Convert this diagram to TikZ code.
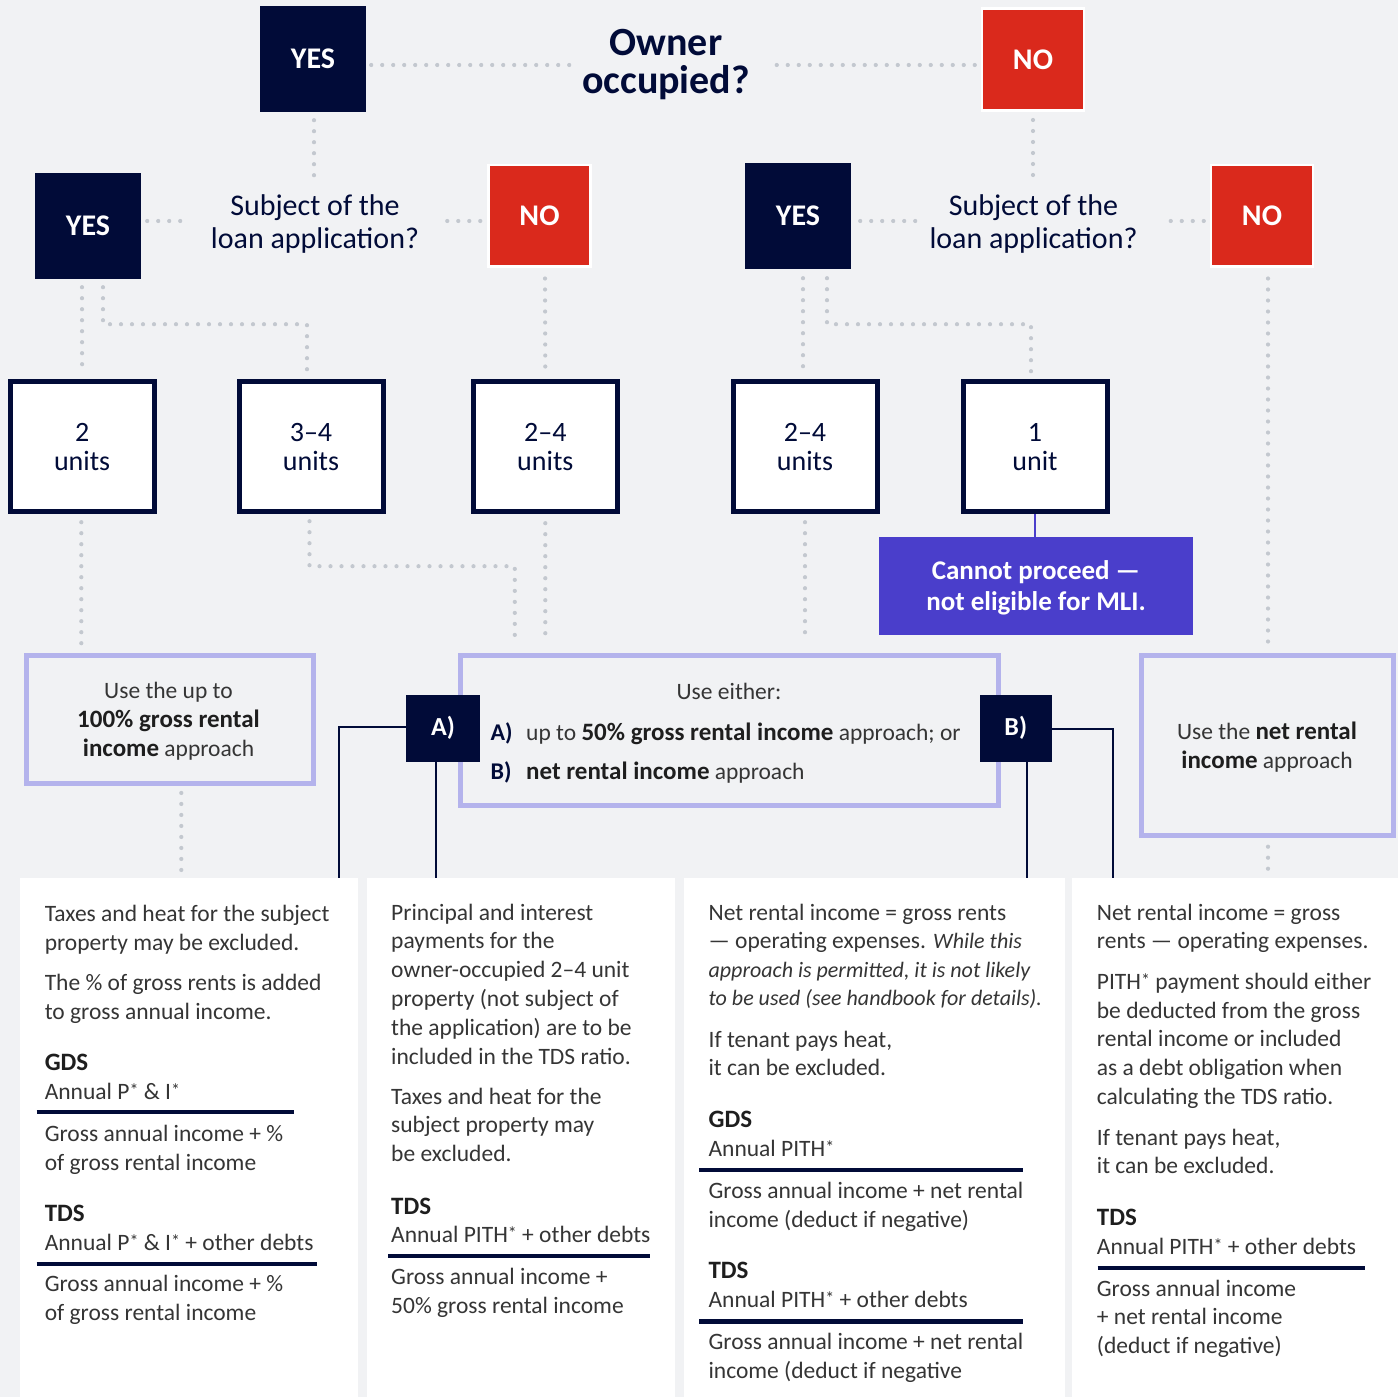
\documentclass[tikz,border=0pt]{standalone}
\usepackage{fontspec}
\setmainfont{Carlito}
\usetikzlibrary{calc}
\definecolor{navy}{HTML}{010B38}
\definecolor{mlired}{HTML}{DA291C}
\definecolor{mlipurple}{HTML}{4A3ECB}
\definecolor{lilac}{HTML}{B4B3EC}
\definecolor{bggray}{HTML}{F1F2F4}
\definecolor{dotgray}{HTML}{C3C8CF}
\definecolor{bodygray}{HTML}{353535}
\definecolor{headblack}{HTML}{1E1E1E}
\newcommand\fs[2]{\fontsize{#1}{#2}\selectfont}
\newcommand\bk[1]{{\bfseries\fs{25}{29}\color{headblack}#1}}
\newcommand\itx[1]{{\itshape\fs{22}{29}#1}}
\newcommand\sast{\raisebox{3pt}{\fs{18}{18}*}}
\begin{document}
\begin{tikzpicture}[x=1pt,y=-1pt,
 dots/.style={draw=dotgray, line width=4.2pt, line cap=round, dash pattern=on 0pt off 11pt},
 navyline/.style={draw=navy, line width=2pt},
 purpline/.style={draw=mlipurple, line width=2.5pt},
 yesbox/.style={fill=navy, text=white, font=\bfseries\fs{30}{30}, minimum width=106pt, minimum height=106pt, inner sep=0pt},
 nobox/.style={fill=mlired, draw=white, line width=2.5pt, text=white, font=\bfseries\fs{30}{30}, minimum width=102pt, minimum height=101.5pt, inner sep=0pt},
 qtitle/.style={text=navy, font=\fs{30}{33}, anchor=base, inner sep=0pt},
 otitle/.style={text=navy, font=\bfseries\fs{40}{37}, anchor=base, inner sep=0pt},
 unitbox/.style={fill=white, draw=navy, line width=5pt, text=navy, font=\fs{28}{29}, align=center, minimum width=144pt, minimum height=130pt, inner sep=0pt},
 optbox/.style={draw=lilac, line width=5pt, inner sep=0pt},
 abbox/.style={fill=navy, text=white, font=\bfseries\fs{26}{26}, minimum height=67pt, inner sep=0pt},
 stopbox/.style={fill=mlipurple, minimum width=313.5pt, minimum height=98pt, inner sep=0pt},
 stoptext/.style={text=white, font=\bfseries\fs{27}{31}, anchor=base, inner sep=0pt},
 coltext/.style={anchor=base west, inner sep=0pt, text=bodygray, font=\fs{23.5}{29}},
 colhead/.style={anchor=base west, inner sep=0pt, text=headblack, font=\bfseries\fs{25}{29}},
 midtext/.style={anchor=base, inner sep=0pt, text=bodygray, font=\fs{23.5}{29}},
 midleft/.style={anchor=base west, inner sep=0pt, text=bodygray, font=\fs{23.5}{29}},
 midlabel/.style={anchor=base west, inner sep=0pt, text=navy, font=\bfseries\fs{24}{29}},
 colbox/.style={fill=white, inner sep=0pt, anchor=north west, minimum height=520pt},
 rulebar/.style={draw=navy, line width=4.5pt}
]
\useasboundingbox (0,0) rectangle (1398,1397);
\fill[bggray] (0,0) rectangle (1398,1397);

% ---- top row
\node[yesbox] (yes0) at (313,59) {YES};
\node[nobox] (no0) at (1033,59.5) {NO};
\node[otitle] (owner1) at (666,56) {Owner};
\node[otitle] (owner2) at (666,93) {occupied?};

% ---- second row
\node[yesbox] (yes1) at (88,226) {YES};
\node[nobox] (noL) at (539.5,215.5) {NO};
\node[qtitle] (sqL1) at (315,215) {Subject of the};
\node[qtitle] (sqL2) at (315,248) {loan application?};
\node[yesbox] (yes2) at (798,216) {YES};
\node[nobox] (noR) at (1262,215.5) {NO};
\node[qtitle] (sqR1) at (1033.5,215) {Subject of the};
\node[qtitle] (sqR2) at (1033.5,248) {loan application?};

% ---- units
\node[unitbox] (u1) at (82.1,446.7) {2\\units};
\node[unitbox] (u2) at (311,446.7) {3–4\\units};
\node[unitbox] (u3) at (545.3,446.7) {2–4\\units};
\node[unitbox] (u4) at (805,446.7) {2–4\\units};
\node[unitbox] (u5) at (1035,446.7) {1\\unit};
\node[stopbox] (stop) at (1036,586) {};
\node[stoptext] (stop1) at (1036,579.5) {Cannot proceed —};
\node[stoptext] (stop2) at (1036,610) {not eligible for MLI.};

% ---- approach boxes
\node[optbox, minimum width=286.9pt, minimum height=128.3pt] (opt1) at (169.6,719.3) {};
\node[optbox, minimum width=537.6pt, minimum height=150.3pt] (opt2) at (729.3,730.3) {};
\node[optbox, minimum width=252pt, minimum height=180pt] (opt3) at (1267.5,745.2) {};

\node[midtext] (o1a) at (168.5,698) {Use the up to};
\node[midtext] (o1b) at (168.5,727.7) {\bk{100\% gross rental}};
\node[midtext] (o1c) at (168.5,756.7) {\bk{income} approach};

\node[midtext] (o2a) at (729,699.5) {Use either:};
\node[midlabel] (o2la) at (490.5,740) {A)};
\node[midleft] (o2b) at (526,740) {up to \bk{50\% gross rental income} approach; or};
\node[midlabel] (o2lb) at (490.5,779) {B)};
\node[midleft] (o2c) at (526,779) {\bk{net rental income} approach};

\node[midtext] (o3a) at (1267,739) {Use the \bk{net rental}};
\node[midtext] (o3b) at (1267,768) {\bk{income} approach};

% ---- columns
\node[colbox, minimum width=338pt] (col1) at (20,878) {};
\node[colbox, minimum width=308pt] (col2) at (367,878) {};
\node[colbox, minimum width=381pt] (col3) at (684,878) {};
\node[colbox, minimum width=326pt] (col4) at (1072,878) {};

% ---- dotted connectors
\draw[dots] ($(yes0.east)+(5,6)$) -- +(198.5,0);
\draw[dots] ($(no0.west)+(-6,5.5)$) -- +(-198.5,0);
\draw[dots] ($(yes0.south)+(1,8)$) -- +(0,55.5);
\draw[dots] ($(no0.south)+(0,8.5)$) -- +(0,55.5);

\draw[dots] ($(yes1.east)+(6,-5)$) -- +(33.5,0);
\draw[dots] ($(noL.west)+(-7,5.5)$) -- +(-33.5,0);
\draw[dots] ($(yes2.east)+(9,5)$) -- +(55.5,0);
\draw[dots] ($(noR.west)+(-6,5.5)$) -- +(-33.5,0);

\draw[dots] ($(yes1.south)+(-6,8)$) -- ($(u1.north)+(0,-6)$);
\draw[dots] ($(yes1.south)+(15,8)$) |- ($(u2.north)+(-4,-55)$) -- ($(u2.north)+(-4,-6)$);
\draw[dots] ($(noL.south)+(5.5,11)$) -- ($(u3.north)+(0,-6)$);
\draw[dots] ($(yes2.south)+(5,9)$) -- ($(u4.north)+(-2,-6)$);
\draw[dots] ($(yes2.south)+(29,9)$) |- ($(u5.north)+(-4,-55)$) -- ($(u5.north)+(-4,-6)$);
\draw[dots] ($(noR.south)+(6,11)$) -- ($(noR.south |- opt3.north)+(6,-8)$);

\draw[dots] ($(u1.south)+(-0.8,8)$) -- ($(u1.south |- opt1.north)+(-0.8,-8)$);
\draw[dots] ($(u2.south)+(-1.5,7)$) |- ($(u3.south)+(-30.5,52)$) -- ($(u3.south)+(-30.5,130)$);
\draw[dots] ($(u3.south)+(0,9)$) -- ($(u3.south |- opt2.north)+(0,-9)$);
\draw[dots] ($(u4.south)+(0,8)$) -- ($(u4.south |- opt2.north)+(0,-11)$);
\draw[purpline] (u5.south) -- (u5.south |- stop.north);

\draw[dots] ($(opt1.south)+(11.7,7)$) -- ($(opt1.south |- col1.north)+(11.7,-4)$);
\draw[dots] ($(opt3.south)+(0.5,9)$) -- ($(opt3.south |- col4.north)+(0.5,-4)$);

% ---- A / B markers and solid connectors
\node[abbox, minimum width=74pt] (aBox) at (443,728.3) {A)};
\node[abbox, minimum width=72.5pt] (bBox) at (1015.8,728.3) {B)};
\coordinate (aL) at ($(aBox.west)+(-67,-1)$);
\draw[navyline] ($(aBox.west)+(0,-1)$) -- (aL) -- (aL |- col1.north);
\coordinate (aD) at ($(aBox.south)+(-7,0)$);
\draw[navyline] (aD) -- (aD |- col2.north);
\coordinate (bD) at ($(bBox.south)+(11,0)$);
\draw[navyline] (bD) -- (bD |- col3.north);
\coordinate (bR) at ($(bBox.east)+(61,0.7)$);
\draw[navyline] ($(bBox.east)+(0,0.7)$) -- (bR) -- (bR |- col4.north);

% ---- column 1
\node[coltext] (c1a) at (44.6,921) {Taxes and heat for the subject};
\node[coltext] (c1b) at (44.6,950) {property may be excluded.};
\node[coltext] (c1c) at (44.6,990) {The \% of gross rents is added};
\node[coltext] (c1d) at (44.6,1019) {to gross annual income.};
\node[colhead] (c1e) at (44.6,1070) {GDS};
\node[coltext] (c1f) at (44.6,1099) {Annual P\sast{} \& I\sast};
\draw[rulebar] (36.6,1112) -- (293.8,1112);
\node[coltext] (c1g) at (44.6,1141) {Gross annual income + \%};
\node[coltext] (c1h) at (44.6,1170) {of gross rental income};
\node[colhead] (c1i) at (44.6,1221) {TDS};
\node[coltext] (c1j) at (44.6,1250) {Annual P\sast{} \& I\sast{} + other debts};
\draw[rulebar] (36.6,1264) -- (317,1264);
\node[coltext] (c1k) at (44.6,1291) {Gross annual income + \%};
\node[coltext] (c1l) at (44.6,1320) {of gross rental income};

% ---- column 2
\node[coltext] (c2a) at (391,920) {Principal and interest};
\node[coltext] (c2b) at (391,948) {payments for the};
\node[coltext] (c2c) at (391,977) {owner-occupied 2–4 unit};
\node[coltext] (c2d) at (391,1006.6) {property (not subject of};
\node[coltext] (c2e) at (391,1035) {the application) are to be};
\node[coltext] (c2f) at (391,1064) {included in the TDS ratio.};
\node[coltext] (c2g) at (391,1104) {Taxes and heat for the};
\node[coltext] (c2h) at (391,1132) {subject property may};
\node[coltext] (c2i) at (391,1161) {be excluded.};
\node[colhead] (c2j) at (391,1214) {TDS};
\node[coltext] (c2k) at (391,1242.5) {Annual PITH\sast{} + other debts};
\draw[rulebar] (388,1256) -- (649.6,1256);
\node[coltext] (c2l) at (391,1284.6) {Gross annual income +};
\node[coltext] (c2m) at (391,1313.8) {50\% gross rental income};

% ---- column 3
\node[coltext] (c3a) at (708.4,920) {Net rental income = gross rents};
\node[coltext] (c3b) at (708.4,948) {— operating expenses. \itx{While this}};
\node[coltext] (c3c) at (708.4,977.5) {\itx{approach is permitted, it is not likely}};
\node[coltext] (c3d) at (708.4,1005.5) {\itx{to be used (see handbook for details).}};
\node[coltext] (c3e) at (708.4,1047.7) {If tenant pays heat,};
\node[coltext] (c3f) at (708.4,1075) {it can be excluded.};
\node[colhead] (c3g) at (708.4,1127) {GDS};
\node[coltext] (c3h) at (708.4,1156) {Annual PITH\sast};
\draw[rulebar] (699,1170) -- (1023,1170);
\node[coltext] (c3i) at (708.4,1198) {Gross annual income + net rental};
\node[coltext] (c3j) at (708.4,1227) {income (deduct if negative)};
\node[colhead] (c3k) at (708.4,1278.5) {TDS};
\node[coltext] (c3l) at (708.4,1307.6) {Annual PITH\sast{} + other debts};
\draw[rulebar] (699,1321.6) -- (1023,1321.6);
\node[coltext] (c3m) at (708.4,1349) {Gross annual income + net rental};
\node[coltext] (c3n) at (708.4,1378) {income (deduct if negative};

% ---- column 4
\node[coltext] (c4a) at (1096.7,920) {Net rental income = gross};
\node[coltext] (c4b) at (1096.7,948) {rents — operating expenses.};
\node[coltext] (c4c) at (1096.7,989.5) {PITH\sast{} payment should either};
\node[coltext] (c4d) at (1096.7,1018) {be deducted from the gross};
\node[coltext] (c4e) at (1096.7,1046.6) {rental income or included};
\node[coltext] (c4f) at (1096.7,1075) {as a debt obligation when};
\node[coltext] (c4g) at (1096.7,1104) {calculating the TDS ratio.};
\node[coltext] (c4h) at (1096.7,1145) {If tenant pays heat,};
\node[coltext] (c4i) at (1096.7,1173) {it can be excluded.};
\node[colhead] (c4j) at (1096.7,1225.7) {TDS};
\node[coltext] (c4k) at (1096.7,1254.5) {Annual PITH\sast{} + other debts};
\draw[rulebar] (1097.6,1268) -- (1365,1268);
\node[coltext] (c4l) at (1096.7,1296) {Gross annual income};
\node[coltext] (c4m) at (1096.7,1324.7) {+ net rental income};
\node[coltext] (c4n) at (1096.7,1353) {(deduct if negative)};
\end{tikzpicture}
\end{document}
